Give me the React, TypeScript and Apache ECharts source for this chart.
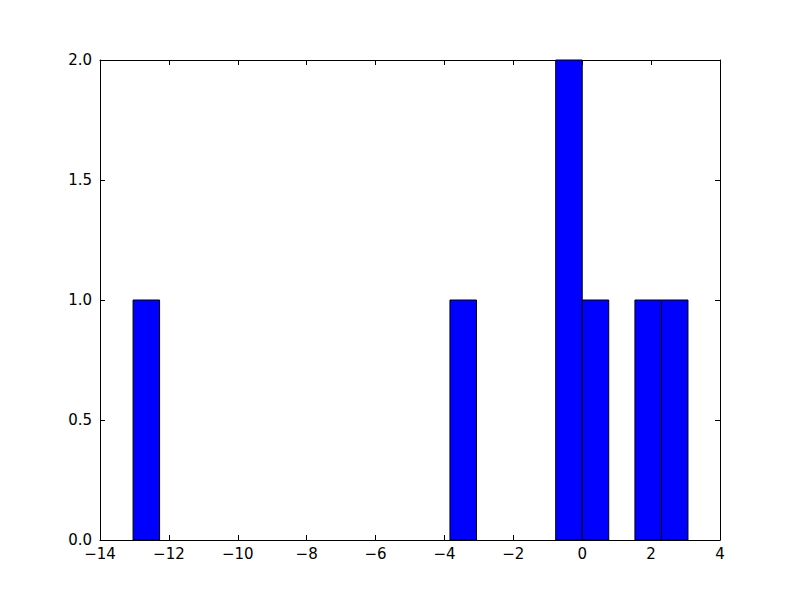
import React, { useEffect, useRef } from "react";
import * as echarts from "echarts";

const binStarts = [-13.04, -3.84, -0.77, 0.0, 1.53, 2.3];
const binEnds = [-12.27, -3.07, 0.0, 0.77, 2.3, 3.07];
const counts = [1, 1, 2, 1, 1, 1];

const xTickMin = -14;
const xTickMax = 4;
const xTickStep = 2;
const yTickMin = 0;
const yTickMax = 2;
const yTickStep = 0.5;

const FONT = "DejaVu Sans";

export default function App() {
  const ref = useRef<HTMLDivElement>(null);
  useEffect(() => {
    if (!ref.current) return;
    const chart = echarts.init(ref.current, undefined, { renderer: "svg" });
    const data = binStarts.map((s, i) => [s, binEnds[i], counts[i]]);
    const lineStyle = { color: "#000", width: 1 };
    const tick = { show: true, inside: true, length: 5, lineStyle };
    const xLabel = {
      fontFamily: FONT,
      fontSize: 15,
      color: "#000",
      margin: 6,
      formatter: (v: number) => String(v).replace("-", "\u2212"),
    };
    const yLabel = {
      fontFamily: FONT,
      fontSize: 15,
      color: "#000",
      margin: 8,
      formatter: (v: number) => v.toFixed(1),
    };
    chart.setOption({
      animation: false,
      backgroundColor: "#fff",
      grid: { left: 100, right: 80, top: 60, bottom: 60, containLabel: false },
      xAxis: [
        {
          type: "value",
          position: "bottom",
          min: xTickMin,
          max: xTickMax,
          interval: xTickStep,
          axisLine: { show: true, onZero: false, lineStyle },
          axisTick: tick,
          axisLabel: xLabel,
          splitLine: { show: false },
        },
        {
          type: "value",
          position: "top",
          min: xTickMin,
          max: xTickMax,
          interval: xTickStep,
          axisLine: { show: true, onZero: false, lineStyle },
          axisTick: tick,
          axisLabel: { show: false },
          splitLine: { show: false },
        },
      ],
      yAxis: [
        {
          type: "value",
          position: "left",
          min: yTickMin,
          max: yTickMax,
          interval: yTickStep,
          axisLine: { show: true, onZero: false, lineStyle },
          axisTick: tick,
          axisLabel: yLabel,
          splitLine: { show: false },
        },
        {
          type: "value",
          position: "right",
          min: yTickMin,
          max: yTickMax,
          interval: yTickStep,
          axisLine: { show: true, onZero: false, lineStyle },
          axisTick: tick,
          axisLabel: { show: false },
          splitLine: { show: false },
        },
      ],
      series: [
        {
          type: "custom",
          xAxisIndex: 0,
          yAxisIndex: 0,
          encode: { x: [0, 1], y: 2 },
          data,
          renderItem: (params: any, api: any) => {
            const x0 = api.value(0);
            const x1 = api.value(1);
            const c = api.value(2);
            const p0 = api.coord([x0, c]);
            const p1 = api.coord([x1, 0]);
            return {
              type: "rect",
              shape: {
                x: p0[0],
                y: p0[1],
                width: p1[0] - p0[0],
                height: p1[1] - p0[1],
              },
              style: { fill: "#0000ff", stroke: "#000", lineWidth: 1 },
            };
          },
        },
      ],
    });
    return () => chart.dispose();
  }, []);
  return (
    <div
      ref={ref}
      style={{ position: "fixed", left: 0, top: 0, width: 800, height: 600 }}
    />
  );
}
